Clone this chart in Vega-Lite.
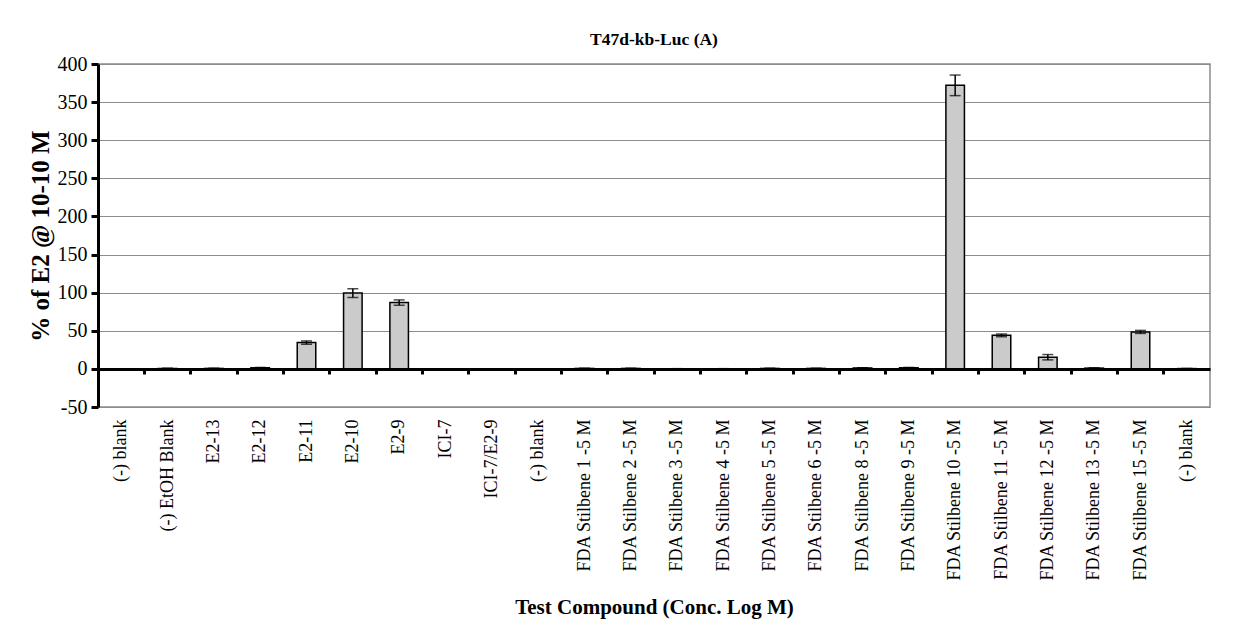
{
  "$schema": "https://vega.github.io/schema/vega-lite/v6.json",
  "width": 1112,
  "height": 343,
  "autosize": {"type": "none"},
  "padding": {"left": 98, "top": 64, "right": 37, "bottom": 227},
  "background": "white",
  "title": {"text": "T47d-kb-Luc (A)", "font": "Liberation Serif", "fontSize": 17.5, "fontWeight": "bold", "color": "black", "offset": 6},
  "config": {"view": {"stroke": "#8c8c8c", "strokeWidth": 1.5}},
  "data": {"values": [
    {"compound": "(-) blank", "value": 0.2, "err": 0},
    {"compound": "(-) EtOH Blank", "value": 0.6, "err": 0.3},
    {"compound": "E2-13", "value": 0.6, "err": 0.3},
    {"compound": "E2-12", "value": 1.5, "err": 0.4},
    {"compound": "E2-11", "value": 34.5, "err": 2.2},
    {"compound": "E2-10", "value": 99.5, "err": 5.8},
    {"compound": "E2-9", "value": 87, "err": 3.5},
    {"compound": "ICI-7", "value": -1, "err": 0.3},
    {"compound": "ICI-7/E2-9", "value": -1, "err": 0.3},
    {"compound": "(-) blank\u200b", "value": 0.2, "err": 0},
    {"compound": "FDA Stilbene 1 -5 M", "value": 0.6, "err": 0.2},
    {"compound": "FDA Stilbene 2 -5 M", "value": 0.6, "err": 0.2},
    {"compound": "FDA Stilbene 3 -5 M", "value": 0.2, "err": 0.1},
    {"compound": "FDA Stilbene 4 -5 M", "value": 0.2, "err": 0.1},
    {"compound": "FDA Stilbene 5 -5 M", "value": 0.6, "err": 0.2},
    {"compound": "FDA Stilbene 6 -5 M", "value": 0.6, "err": 0.2},
    {"compound": "FDA Stilbene 8 -5 M", "value": 1.2, "err": 0.3},
    {"compound": "FDA Stilbene 9 -5 M", "value": 1.5, "err": 0.4},
    {"compound": "FDA Stilbene 10 -5 M", "value": 372, "err": 13.5},
    {"compound": "FDA Stilbene 11 -5 M", "value": 44, "err": 1.8},
    {"compound": "FDA Stilbene 12 -5 M", "value": 15.3, "err": 3.5},
    {"compound": "FDA Stilbene 13 -5 M", "value": 1, "err": 0.4},
    {"compound": "FDA Stilbene 15 -5 M", "value": 48.5, "err": 2},
    {"compound": "(-) blank\u200b\u200b", "value": 0.4, "err": 0}
  ]},
  "resolve": {"axis": {"x": "independent"}},
  "layer": [
    {
      "mark": {"type": "bar", "fill": "#cbcbcb", "stroke": "black", "strokeWidth": 1.5, "width": {"band": 0.4}},
      "encoding": {
        "x": {"field": "compound", "type": "nominal", "sort": null,
          "scale": {"paddingInner": 0, "paddingOuter": 0},
          "axis": {"orient": "bottom", "title": "Test Compound (Conc. Log M)", "labelAngle": -90, "labelFont": "Liberation Serif", "labelFontSize": 18, "labelColor": "black", "labelPadding": 12, "labelLimit": 0, "ticks": false, "domain": false, "grid": false,
            "titleFont": "Liberation Serif", "titleFontSize": 21, "titleFontWeight": "bold", "titleColor": "black", "titlePadding": 15}},
        "y": {"field": "value", "type": "quantitative", "scale": {"domain": [-50, 400], "nice": false},
          "axis": {"title": "% of E2 @ 10-10 M", "values": [-50, 0, 50, 100, 150, 200, 250, 300, 350, 400], "labelExpr": "'' + datum.value", "grid": true, "gridColor": "#8c8c8c", "gridWidth": 1.2,
            "domainColor": "black", "domainWidth": 3, "tickColor": "black", "tickWidth": 3, "tickSize": 7,
            "labelFont": "Liberation Serif", "labelFontSize": 20, "labelColor": "black", "labelPadding": 4,
            "titleFont": "Liberation Serif", "titleFontSize": 25, "titleFontWeight": "bold", "titleColor": "black", "titlePadding": 4}}
      }
    },
    {
      "mark": {"type": "errorbar", "color": "black", "ticks": {"size": 11, "thickness": 1.5, "color": "black"}, "rule": {"strokeWidth": 1.5}},
      "encoding": {
        "x": {"field": "compound", "type": "nominal", "sort": null,
          "axis": {"orient": "bottom", "offset": -38, "labels": false, "title": null, "domain": true, "domainColor": "black", "domainWidth": 3, "ticks": true, "tickColor": "black", "tickWidth": 3, "tickSize": 5, "bandPosition": 0, "grid": false, "zindex": 1}},
        "y": {"field": "value", "type": "quantitative", "scale": {"domain": [-50, 400], "nice": false},
          "axis": {"title": "% of E2 @ 10-10 M", "values": [-50, 0, 50, 100, 150, 200, 250, 300, 350, 400], "labelExpr": "'' + datum.value", "grid": true, "gridColor": "#8c8c8c", "gridWidth": 1.2,
            "domainColor": "black", "domainWidth": 3, "tickColor": "black", "tickWidth": 3, "tickSize": 7,
            "labelFont": "Liberation Serif", "labelFontSize": 20, "labelColor": "black", "labelPadding": 4,
            "titleFont": "Liberation Serif", "titleFontSize": 25, "titleFontWeight": "bold", "titleColor": "black", "titlePadding": 4}},
        "yError": {"field": "err"}
      }
    }
  ]
}
